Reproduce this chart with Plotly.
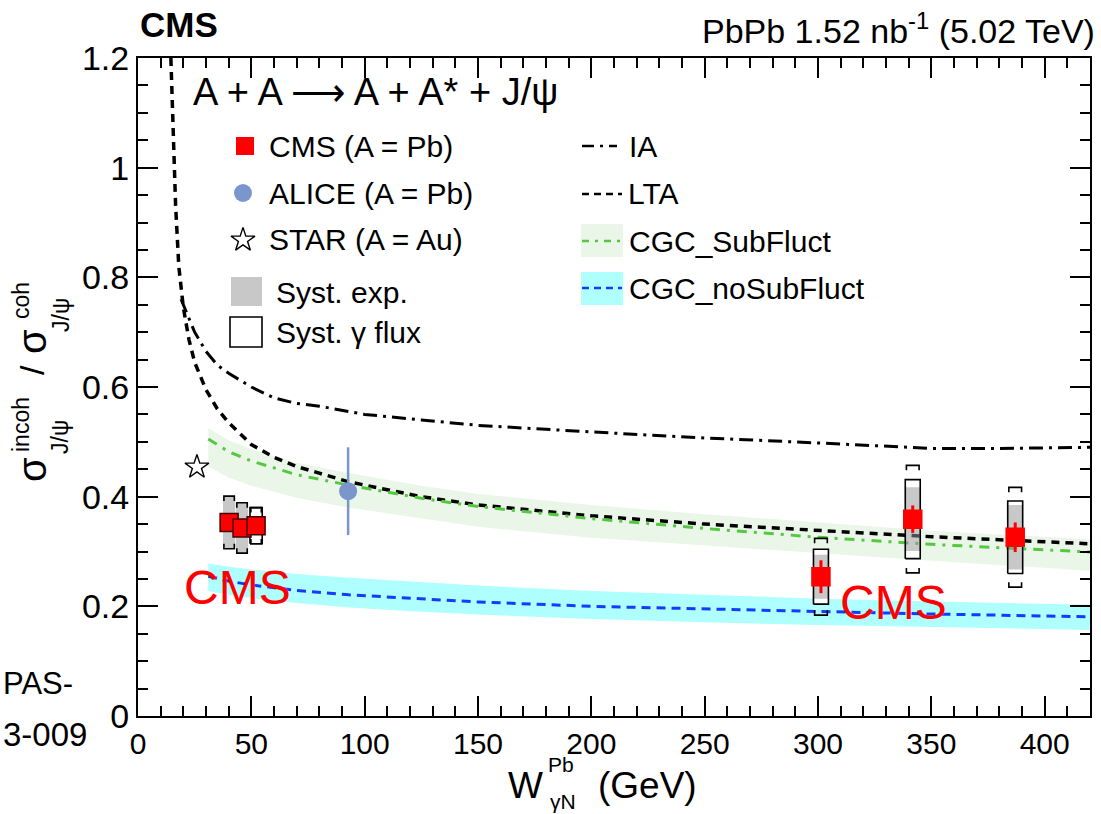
import plotly.graph_objects as go

FONT = "Liberation Sans, Arial, Helvetica, sans-serif"

# ---------------- data ----------------
W_cms = [40.2, 45.9, 52.1, 301.3, 341.8, 387.0]
R_cms = [0.353, 0.343, 0.347, 0.254, 0.359, 0.326]
stat_cms = [0.012, 0.012, 0.012, 0.030, 0.025, 0.027]
syst_exp = [0.048, 0.046, 0.015, 0.040, 0.058, 0.059]
syst_flux = [0.010, 0.010, 0.033, 0.050, 0.072, 0.066]
syst_bracket = [0.048, 0.046, 0.033, 0.070, 0.098, 0.091]

W_alice = [92.7]
R_alice = [0.41]
err_alice = [0.08]

W_star = [26.0]
R_star = [0.454]

W_ia = [19, 22, 25, 30, 35, 40, 50, 60, 70, 80, 100, 125, 150, 200, 250, 300, 350, 380, 420]
R_ia = [0.76, 0.73, 0.70, 0.665, 0.64, 0.625, 0.60, 0.58, 0.57, 0.565, 0.55, 0.54, 0.53,
        0.518, 0.507, 0.498, 0.488, 0.488, 0.49]

W_lta = [14.5, 15.5, 16.6, 18, 20, 22.5, 25, 30, 35, 40, 50, 60, 70, 93, 125, 150, 200,
         250, 300, 350, 420]
R_lta = [1.2, 1.06, 0.93, 0.82, 0.745, 0.686, 0.645, 0.595, 0.56, 0.535, 0.495, 0.472,
         0.455, 0.427, 0.40, 0.385, 0.365, 0.35, 0.339, 0.327, 0.314]

W_sub = [31, 40, 50, 70, 93, 125, 150, 200, 250, 300, 350, 420]
R_sub = [0.505, 0.482, 0.465, 0.44, 0.421, 0.397, 0.382, 0.36, 0.342, 0.326, 0.313, 0.299]
R_sub_hi = [0.525, 0.503, 0.487, 0.462, 0.443, 0.42, 0.405, 0.385, 0.368, 0.353, 0.338, 0.322]
R_sub_lo = [0.455, 0.435, 0.42, 0.398, 0.38, 0.36, 0.345, 0.325, 0.31, 0.297, 0.283, 0.265]

W_nosub = [31, 40, 50, 70, 93, 125, 150, 200, 250, 300, 350, 420]
R_nosub = [0.255, 0.246, 0.239, 0.229, 0.221, 0.213, 0.208, 0.2, 0.195, 0.19, 0.186, 0.181]
R_nosub_hi = [0.278, 0.272, 0.267, 0.259, 0.252, 0.244, 0.238, 0.228, 0.221, 0.214, 0.209, 0.203]
R_nosub_lo = [0.228, 0.221, 0.215, 0.206, 0.198, 0.19, 0.185, 0.177, 0.171, 0.166, 0.162, 0.157]

x_range = [0, 420]
y_range = [0, 1.2]

# ---------------- layout geometry ----------------
FW, FH = 1101, 814
ML, MR, MT, MB = 138, 11, 58, 98
PW = FW - ML - MR
PH = FH - MT - MB


def px(x):
    return (x - ML) / PW


def py(y):
    return (FH - MB - y) / PH


C_GREEN = "rgb(85,200,65)"
C_BLUE = "rgb(20,60,255)"
C_GREEN_BAND = "rgb(234,247,232)"
C_CYAN_BAND = "rgb(175,255,255)"
C_ALICE = "rgb(122,150,205)"

fig = go.Figure()


def band(xs, lo, hi, color):
    fig.add_trace(go.Scatter(x=list(xs) + list(xs)[::-1], y=list(hi) + list(lo)[::-1],
                             fill="toself", fillcolor=color, mode="lines",
                             line=dict(width=0), hoverinfo="skip", showlegend=False))


band(W_sub, R_sub_lo, R_sub_hi, C_GREEN_BAND)
band(W_nosub, R_nosub_lo, R_nosub_hi, C_CYAN_BAND)


def half_width(w):
    return 2.7 if w < 100 else 3.3


def box_paths(errs, scale=1.0):
    X, Y = [], []
    for w, r, e in zip(W_cms, R_cms, errs):
        hw = half_width(w) * scale
        X += [w - hw, w + hw, w + hw, w - hw, w - hw, None]
        Y += [r - e, r - e, r + e, r + e, r - e, None]
    return X, Y


# open (gamma flux) boxes: white fill
fx, fy = box_paths(syst_flux)
fig.add_trace(go.Scatter(x=fx, y=fy, fill="toself", fillcolor="white", mode="lines",
                         line=dict(width=0), hoverinfo="skip", showlegend=False))

# theory lines
fig.add_trace(go.Scatter(x=W_ia, y=R_ia, mode="lines", showlegend=False,
                         line=dict(color="black", width=3, dash="14px,6px,3px,6px")))
fig.add_trace(go.Scatter(x=W_lta, y=R_lta, mode="lines", showlegend=False,
                         line=dict(color="black", width=3.5, dash="8px,6px")))
fig.add_trace(go.Scatter(x=W_sub, y=R_sub, mode="lines", showlegend=False,
                         line=dict(color=C_GREEN, width=3, dash="10px,7px,3px,7px")))
fig.add_trace(go.Scatter(x=W_nosub, y=R_nosub, mode="lines", showlegend=False,
                         line=dict(color=C_BLUE, width=3, dash="9px,6px")))

# grey experimental systematic boxes
gx, gy = box_paths(syst_exp)
fig.add_trace(go.Scatter(x=gx, y=gy, fill="toself", fillcolor="rgba(150,150,150,0.52)",
                         mode="lines", line=dict(width=0), hoverinfo="skip", showlegend=False))
# open box outlines
fig.add_trace(go.Scatter(x=fx, y=fy, mode="lines", line=dict(color="black", width=1.6),
                         hoverinfo="skip", showlegend=False))

# brackets
bx, by = [], []
tick = 0.009
for w, r, e in zip(W_cms, R_cms, syst_bracket):
    hw = half_width(w) * 0.85
    bx += [w - hw, w - hw, w + hw, w + hw, None, w - hw, w - hw, w + hw, w + hw, None]
    by += [r + e - tick, r + e, r + e, r + e - tick, None,
           r - e + tick, r - e, r - e, r - e + tick, None]
fig.add_trace(go.Scatter(x=bx, y=by, mode="lines", line=dict(color="black", width=1.6),
                         hoverinfo="skip", showlegend=False))

# ALICE
fig.add_trace(go.Scatter(x=W_alice, y=R_alice, mode="markers", showlegend=False,
                         marker=dict(symbol="circle", size=18, color=C_ALICE),
                         error_y=dict(type="data", array=err_alice, color=C_ALICE,
                                      thickness=2.5, width=0)))
# STAR
fig.add_trace(go.Scatter(x=W_star, y=R_star, mode="markers", showlegend=False,
                         marker=dict(symbol="star-open", size=18, color="black",
                                     line=dict(color="black", width=1.4))))
# CMS
fig.add_trace(go.Scatter(x=W_cms, y=R_cms, mode="markers", showlegend=False,
                         marker=dict(symbol="square", size=18, color="red",
                                     line=dict(color=["rgb(70,0,0)" if w < 100 else "red" for w in W_cms],
                                               width=1.5)),
                         error_y=dict(type="data", array=stat_cms, color="red",
                                      thickness=3, width=0)))

# ---------------- legend glyphs (overlay pixel axes) ----------------
fig.add_trace(go.Scatter(x=[245], y=[146], xaxis="x2", yaxis="y2", mode="markers",
                         marker=dict(symbol="square", size=18, color="red"), showlegend=False))
fig.add_trace(go.Scatter(x=[243], y=[193], xaxis="x2", yaxis="y2", mode="markers",
                         marker=dict(symbol="circle", size=18, color=C_ALICE), showlegend=False))
fig.add_trace(go.Scatter(x=[243], y=[240], xaxis="x2", yaxis="y2", mode="markers",
                         marker=dict(symbol="star-open", size=18, color="black",
                                     line=dict(color="black", width=1.4)), showlegend=False))

shapes = [
    dict(type="rect", xref="paper", yref="paper", x0=px(231), x1=px(262), y0=py(306), y1=py(277),
         fillcolor="rgb(200,200,200)", line=dict(width=0)),
    dict(type="rect", xref="paper", yref="paper", x0=px(230), x1=px(262), y0=py(347), y1=py(317),
         fillcolor="rgba(0,0,0,0)", line=dict(color="black", width=1.6)),
    dict(type="line", xref="paper", yref="paper", x0=px(582), x1=px(617), y0=py(146), y1=py(146),
         line=dict(color="black", width=2.5, dash="12px,6px,3px,6px")),
    dict(type="line", xref="paper", yref="paper", x0=px(582), x1=px(622), y0=py(194), y1=py(194),
         line=dict(color="black", width=2.5, dash="7px,5px")),
    dict(type="rect", xref="paper", yref="paper", x0=px(581), x1=px(623), y0=py(257), y1=py(224),
         fillcolor=C_GREEN_BAND, line=dict(width=0)),
    dict(type="line", xref="paper", yref="paper", x0=px(582), x1=px(622), y0=py(241), y1=py(241),
         line=dict(color=C_GREEN, width=2.5, dash="7px,6px,3px,6px")),
    dict(type="rect", xref="paper", yref="paper", x0=px(581), x1=px(623), y0=py(305), y1=py(272),
         fillcolor=C_CYAN_BAND, line=dict(width=0)),
    dict(type="line", xref="paper", yref="paper", x0=px(582), x1=px(622), y0=py(288), y1=py(288),
         line=dict(color=C_BLUE, width=2.5, dash="7px,5px")),
]


def ann(text, x, y, size, xanchor="left", color="black", angle=0, bold=False):
    if bold:
        text = "<b>" + text + "</b>"
    return dict(text=text, x=px(x), y=py(y), xref="paper", yref="paper", showarrow=False,
                xanchor=xanchor, yanchor="middle", textangle=angle, borderpad=0,
                font=dict(family=FONT, size=size, color=color))


LEG = 30
annotations = [
    ann("CMS", 139, 25, 35, bold=True),
    ann("PbPb 1.52 nb<sup>-1</sup> (5.02 TeV)", 1096, 29, 34, xanchor="right"),
    ann("A + A \u27f6 A + A* + J/\u03c8", 192, 92, 38),
    ann("CMS (A = Pb)", 268, 146, LEG),
    ann("ALICE (A = Pb)", 268, 193, LEG),
    ann("STAR (A = Au)", 268, 240, LEG),
    ann("Syst. exp.", 275, 292, LEG),
    ann("Syst. \u03b3 flux", 275, 332, LEG),
    ann("IA", 628, 146, LEG),
    ann("LTA", 627, 193, LEG),
    ann("CGC_SubFluct", 628, 241, LEG),
    ann("CGC_noSubFluct", 628, 288, LEG),
    ann("CMS", 237, 587, 48, xanchor="center", color="red"),
    ann("CMS", 893, 602, 48, xanchor="center", color="red"),
    ann("PAS-", 74, 683, 31, xanchor="right"),
    ann("3-009", 88, 735, 33, xanchor="right"),
    # y-axis title pieces
    ann("\u03c3", 32, 470, 40, xanchor="center", angle=-90),
    ann("incoh", 21, 425, 23, xanchor="center", angle=-90),
    ann("J/\u03c8", 60, 437, 23, xanchor="center", angle=-90),
    ann("/", 32, 370, 34, xanchor="center", angle=-90),
    ann("\u03c3", 32, 342, 40, xanchor="center", angle=-90),
    ann("coh", 21, 301, 23, xanchor="center", angle=-90),
    ann("J/\u03c8", 61, 315, 23, xanchor="center", angle=-90),
    # x-axis title pieces
    ann("W", 525, 785, 37, xanchor="center"),
    ann("Pb", 561, 764, 21, xanchor="center"),
    ann("\u03b3N", 563, 801, 21, xanchor="center"),
    ann("(GeV)", 647, 785, 37, xanchor="center"),
]

axis_common = dict(showgrid=False, zeroline=False, showline=True, linecolor="black",
                   linewidth=2, mirror="ticks", ticks="inside", tickcolor="black",
                   tickwidth=1.5, automargin=False)

fig.update_layout(
    template="none",
    width=FW, height=FH,
    margin=dict(l=ML, r=MR, t=MT, b=MB, autoexpand=False),
    paper_bgcolor="white", plot_bgcolor="white",
    font=dict(family=FONT, color="black"),
    showlegend=False,
    xaxis=dict(range=x_range, dtick=50, tick0=0, ticklen=20,
               minor=dict(ticks="inside", dtick=10, ticklen=10, tickcolor="black", tickwidth=1.5),
               tickfont=dict(family=FONT, size=30), **axis_common),
    yaxis=dict(range=y_range, dtick=0.2, tick0=0, ticklen=20,
               minor=dict(ticks="inside", dtick=0.05, ticklen=10, tickcolor="black", tickwidth=1.5),
               tickfont=dict(family=FONT, size=34), **axis_common),
    xaxis2=dict(range=[ML, FW - MR], overlaying="x", visible=False, fixedrange=True),
    yaxis2=dict(range=[FH - MB, MT], overlaying="y", visible=False, fixedrange=True),
    shapes=shapes,
    annotations=annotations,
)

fig.write_html("out.html", config={"displayModeBar": False},
               post_script="document.body.style.margin='0px';")
